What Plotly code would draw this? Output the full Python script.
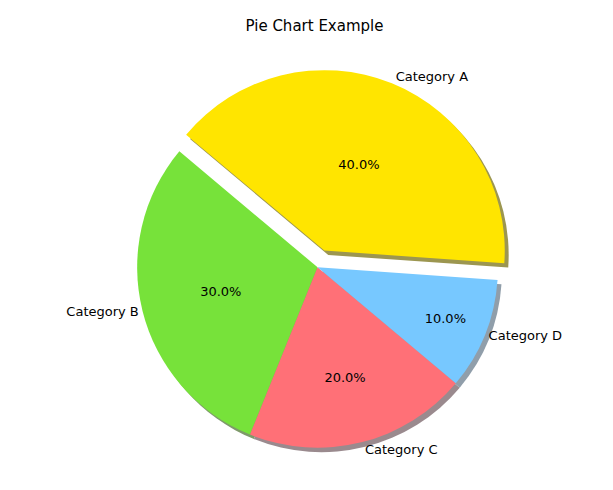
import plotly.graph_objects as go

labels = ["Category A", "Category B", "Category C", "Category D"]
values = [40, 30, 20, 10]
colors = ["#FFE500", "#77E23A", "#FF7077", "#77C8FF"]
shadow_colors = ["#9C9650", "#7E9A6A", "#9A8A8E", "#909EAA"]
pulls = [0.1, 0, 0, 0]

dom_x = [0.08, 0.90]
dom_y = [0.03, 0.93]
dx, dy = 0.008, 0.010

common = dict(labels=labels, values=values, sort=False, direction="counterclockwise",
              rotation=-50, pull=pulls, showlegend=False, hoverinfo="skip")

fig = go.Figure()
# shadow
fig.add_trace(go.Pie(**common, marker=dict(colors=shadow_colors, line=dict(width=0)),
                     textinfo="none",
                     domain=dict(x=[dom_x[0] + dx, dom_x[1] + dx], y=[dom_y[0] - dy, dom_y[1] - dy])))
# main pie
fig.add_trace(go.Pie(**common, marker=dict(colors=colors, line=dict(width=0)),
                     texttemplate="%{percent:.1%}", textposition="inside",
                     insidetextorientation="horizontal",
                     textfont=dict(family="DejaVu Sans", size=13, color="black"),
                     domain=dict(x=dom_x, y=dom_y)))
# outside labels
fig.add_trace(go.Pie(**common, marker=dict(colors=["rgba(0,0,0,0)"] * 4, line=dict(width=0)),
                     texttemplate="%{label}", textposition="outside",
                     textfont=dict(family="DejaVu Sans", size=13, color="black"),
                     domain=dict(x=dom_x, y=dom_y)))

fig.update_layout(
    width=613, height=490,
    title=dict(text="Pie Chart Example", x=0.5, y=0.975, xanchor="center",
               font=dict(family="DejaVu Sans", size=15, color="black")),
    margin=dict(l=10, r=10, t=30, b=10),
    paper_bgcolor="white", plot_bgcolor="white",
)

fig.write_html("out.html")
